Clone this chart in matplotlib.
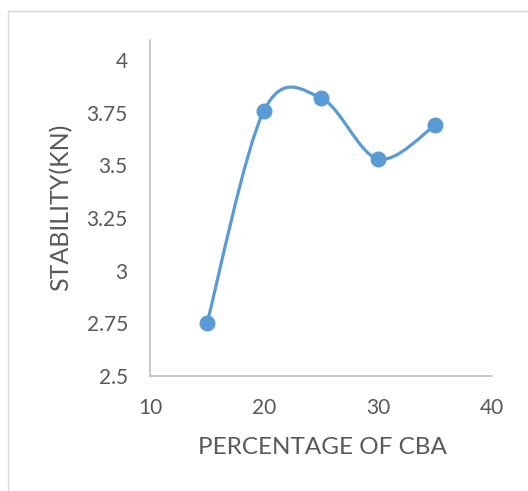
import numpy as np
import matplotlib
matplotlib.use("Agg")
import matplotlib.pyplot as plt
from matplotlib.path import Path
from matplotlib.patches import PathPatch, Rectangle

# Marshall stability versus CBA content
cba_percent = [15, 20, 25, 30, 35]
stability_kn = [2.75, 3.76, 3.82, 3.53, 3.69]
x_ticks = [10, 20, 30, 40]
y_ticks = [2.5, 2.75, 3.0, 3.25, 3.5, 3.75, 4.0]
y_tick_labels = ["2.5", "2.75", "3", "3.25", "3.5", "3.75", "4"]

LINE_BLUE = "#5B9BD5"
TEXT_GREY = "#595959"
AXIS_GREY = "#BFBFBF"

plt.rcParams["font.family"] = ["Lato", "DejaVu Sans"]

W, H = 528, 491
fig = plt.figure(figsize=(W / 100, H / 100), dpi=100)
fig.patch.set_facecolor("white")

# chart-area frame (only the top and left edges fall inside the image)
fig.patches.append(Rectangle((8 / W, -0.1), 1.2, 0.1 + (1 - 11 / H),
                             transform=fig.transFigure, fill=False,
                             edgecolor="#D9D9D9", linewidth=1.0))

ax = fig.add_axes([150 / W, 1 - 376 / H, 342 / W, 336 / H])
ax.set_xlim(10, 40)
ax.set_ylim(2.5, 2.5 + 336 / 210.7 * 1.0)


def smooth_path(xs, ys):
    """Cubic Bezier through the points, tangent = (P[i+1]-P[i-1])/6."""
    pts = np.column_stack([xs, ys]).astype(float)
    n = len(pts)
    verts = [pts[0]]
    codes = [Path.MOVETO]
    for i in range(n - 1):
        p0 = pts[max(i - 1, 0)]
        p1 = pts[i]
        p2 = pts[i + 1]
        p3 = pts[min(i + 2, n - 1)]
        c1 = p1 + (p2 - p0) / 6.0
        c2 = p2 - (p3 - p1) / 6.0
        verts += [c1, c2, p2]
        codes += [Path.CURVE4] * 3
    return Path(verts, codes)


ax.add_patch(PathPatch(smooth_path(cba_percent, stability_kn), facecolor="none",
                       edgecolor=LINE_BLUE, linewidth=2.3, capstyle="round",
                       joinstyle="round", zorder=2))
ax.plot(cba_percent, stability_kn, linestyle="none", marker="o",
        markersize=10.5, color=LINE_BLUE, zorder=3)

for side in ("top", "right"):
    ax.spines[side].set_visible(False)
for side in ("left", "bottom"):
    ax.spines[side].set_color(AXIS_GREY)
    ax.spines[side].set_linewidth(1.2)

ax.set_xticks(x_ticks)
ax.set_yticks(y_ticks)
ax.set_yticklabels(y_tick_labels)
ax.tick_params(axis="both", length=0, labelsize=15, colors=TEXT_GREY)
ax.tick_params(axis="y", pad=16)
ax.tick_params(axis="x", pad=16)

# axis titles placed in figure pixels
fig.text(322 / W, 1 - 447 / H, "PERCENTAGE OF CBA", fontsize=17.5,
         color=TEXT_GREY, ha="center", va="center")
fig.text(61 / W, 1 - 207 / H, "STABILITY(KN)", fontsize=18,
         color=TEXT_GREY, ha="center", va="center", rotation=90)

fig.savefig("out.png", dpi=100, facecolor="white")
